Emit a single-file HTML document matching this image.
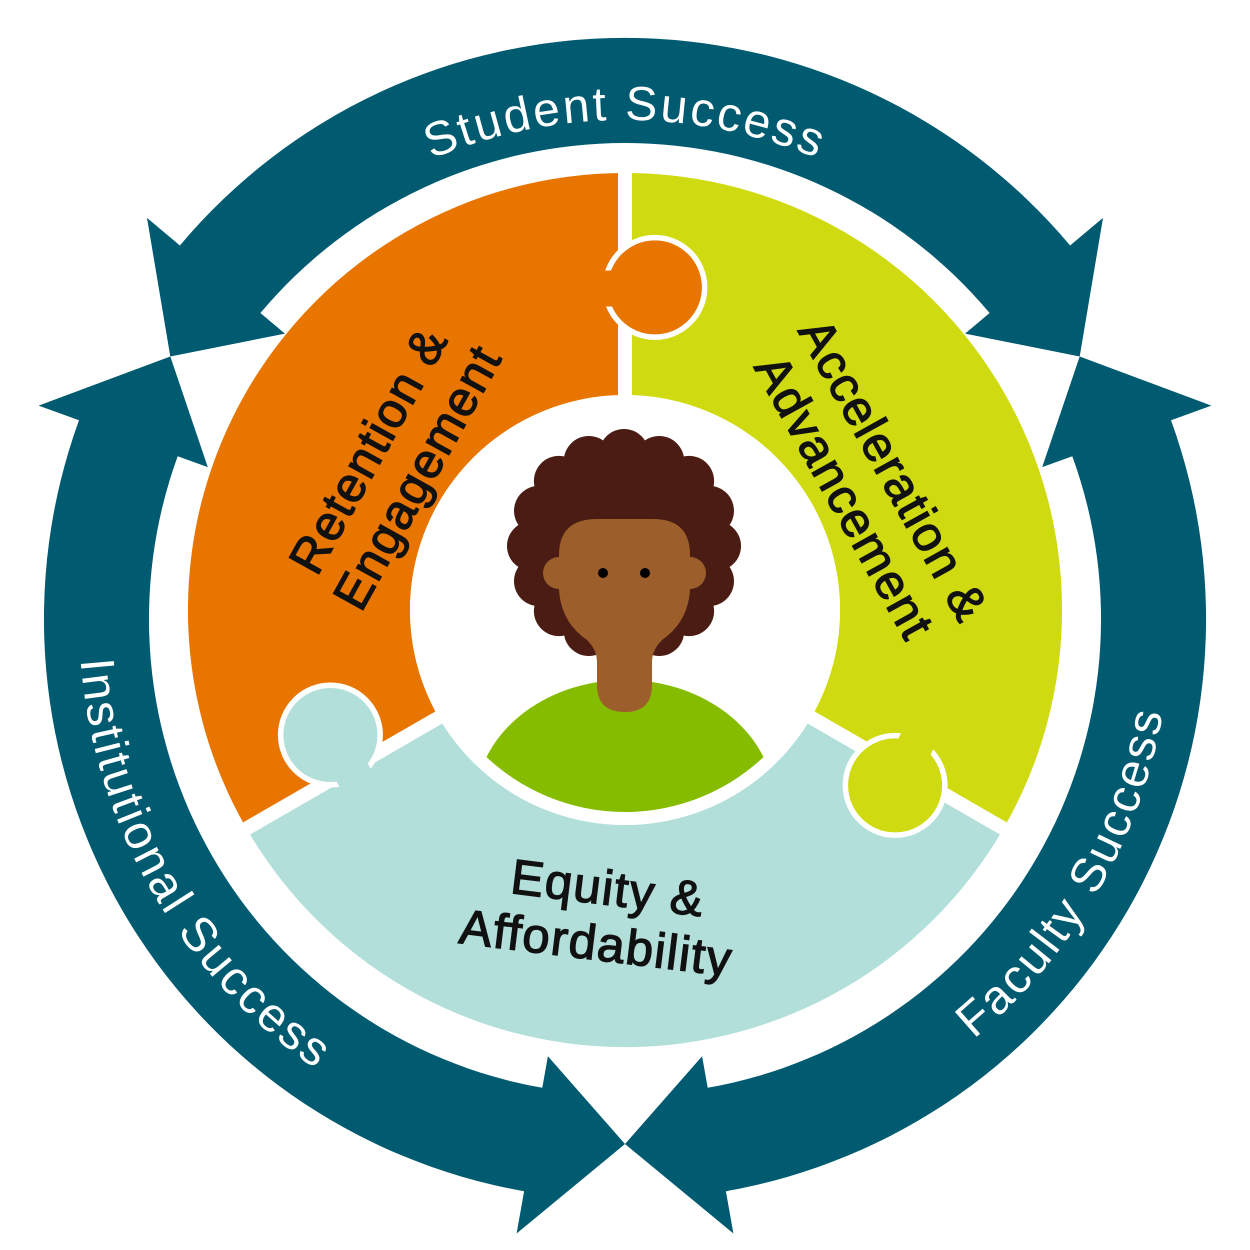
<!DOCTYPE html>
<html><head><meta charset="utf-8">
<style>
html,body{margin:0;padding:0;background:#fff;}
svg{display:block}
.ring{font-family:"Liberation Sans",sans-serif;font-size:48px;fill:#fff;letter-spacing:2.5px}
.pz{font-family:"Liberation Sans",sans-serif;font-size:49px;font-weight:normal;fill:#111;stroke:#111;stroke-width:1.3px;text-anchor:middle;letter-spacing:1.5px}
</style></head>
<body>
<svg id="s" width="1250" height="1250" viewBox="0 0 1250 1250" xmlns="http://www.w3.org/2000/svg">
<defs>
<path id="pStudent" d=""/>
<path id="pInst" d=""/>
<path id="pFac" d=""/>
<clipPath id="innerClip"><circle cx="625" cy="610" r="202"/></clipPath>
</defs>
<g id="ringg" fill="#005a70"></g>
<g id="puzzle"></g>
<g>
<g id="hair" fill="#4a1c13"></g>
<g clip-path="url(#innerClip)">
<ellipse cx="625" cy="805" rx="150" ry="125" fill="#86bc00"/>
</g>
<circle cx="559" cy="573" r="16" fill="#9c5f2b"/>
<circle cx="690" cy="573" r="16" fill="#9c5f2b"/>
<path fill="#9c5f2b" d="M559,560 L559,555 Q559,519 597,519 L653,519 Q690,519 690,555 L690,590 Q688,622 662,640 Q652,650 652,662 L652,685 Q652,712 625,712 Q597,712 597,685 L597,662 Q597,650 587,640 Q561,622 559,590 Z"/>
<circle cx="603" cy="573" r="5" fill="#000"/>
<circle cx="645" cy="573" r="5" fill="#000"/>
</g>
<text class="ring"><textPath href="#pStudent" startOffset="50%" text-anchor="middle">Student Success</textPath></text>
<text class="ring"><textPath href="#pInst" startOffset="50%" text-anchor="middle">Institutional Success</textPath></text>
<text class="ring"><textPath href="#pFac" startOffset="50%" text-anchor="middle">Faculty Success</textPath></text>
<g transform="translate(390,462) rotate(-61)">
<text class="pz" x="0" y="-8">Retention &amp;</text>
<text class="pz" x="0" y="48">Engagement</text>
</g>
<g transform="translate(872,482) rotate(61)">
<text class="pz" x="0" y="-8">Acceleration &amp;</text>
<text class="pz" x="0" y="48">Advancement</text>
</g>
<g transform="translate(600,912) rotate(7)">
<text class="pz" x="5" y="-8">Equity &amp;</text>
<text class="pz" x="0" y="48">Affordability</text>
</g>
</svg>
<script>
(function(){
var NS="http://www.w3.org/2000/svg";
function P(cx,cy,r,a){a=a*Math.PI/180;return (cx+r*Math.cos(a)).toFixed(1)+","+(cy+r*Math.sin(a)).toFixed(1);}
var cx=625,cy=619,ro=581,ri=476,bo=624,bi=444,rt=525,B=10;
function seg(t1,t2){
 return "M"+P(cx,cy,rt,t1)+" L"+P(cx,cy,bo,t1+B)+" L"+P(cx,cy,ro,t1+B)+
 " A"+ro+" "+ro+" 0 0 1 "+P(cx,cy,ro,t2-B)+" L"+P(cx,cy,bo,t2-B)+" L"+P(cx,cy,rt,t2)+
 " L"+P(cx,cy,bi,t2-B)+" L"+P(cx,cy,ri,t2-B)+" A"+ri+" "+ri+" 0 0 0 "+P(cx,cy,ri,t1+B)+
 " L"+P(cx,cy,bi,t1+B)+" Z";
}
var rg=document.getElementById("ringg");
[[210,330],[330,450],[90,210]].forEach(function(t){
 var p=document.createElementNS(NS,"path");p.setAttribute("d",seg(t[0],t[1]));rg.appendChild(p);});
document.getElementById("pStudent").setAttribute("d","M"+P(cx,cy,499,200)+" A499 499 0 0 1 "+P(cx,cy,499,340));
document.getElementById("pInst").setAttribute("d","M"+P(cx,cy,546,205)+" A546 546 0 0 0 "+P(cx,cy,546,95));
document.getElementById("pFac").setAttribute("d","M"+P(cx,cy,546,85)+" A546 546 0 0 0 "+P(cx,cy,546,-25));
var px=625,py=610,R=437,r=215;
var pz=document.getElementById("puzzle");
function add(tag,attrs){var e=document.createElementNS(NS,tag);for(var k in attrs)e.setAttribute(k,attrs[k]);pz.appendChild(e);return e;}
function sector(a1,a2,col){
 add("path",{fill:col,d:"M"+P(px,py,R,a1)+" A"+R+" "+R+" 0 0 1 "+P(px,py,R,a2)+" L"+P(px,py,r,a2)+" A"+r+" "+r+" 0 0 0 "+P(px,py,r,a1)+" Z"});
}
var OR="#e87500",GR="#d0da10",TE="#b2dfda";
sector(150,270,OR);sector(270,390,GR);sector(30,150,TE);
[270,30,150].forEach(function(a){
 var s=P(px,py,r-10,a).split(","),e=P(px,py,R+10,a).split(",");
 add("line",{x1:s[0],y1:s[1],x2:e[0],y2:e[1],stroke:"#fff","stroke-width":14});
});
function knob(ang,rad,back,col){
 var c=P(px,py,rad,ang).split(",");
 add("circle",{cx:c[0],cy:c[1],r:47,fill:col,stroke:"#fff","stroke-width":11});
 var d=P(px,py,rad,back).split(",");
 add("line",{x1:c[0],y1:c[1],x2:d[0],y2:d[1],stroke:col,"stroke-width":36});
 add("circle",{cx:c[0],cy:c[1],r:47,fill:col});
}
knob(275.3,324,262,OR);
knob(157,320,143,TE);
knob(33,322,20,GR);
add("circle",{cx:px,cy:py,r:r,fill:"#fff"});
var h=document.getElementById("hair");
var hc=document.createElementNS(NS,"circle");hc.setAttribute("cx",624);hc.setAttribute("cy",546);hc.setAttribute("r",95);h.appendChild(hc);
for(var i=0;i<16;i++){
 var a=i*360/16;var q=P(624,546,92,a).split(",");
 var c=document.createElementNS(NS,"circle");c.setAttribute("cx",q[0]);c.setAttribute("cy",q[1]);c.setAttribute("r",25);h.appendChild(c);
}
})();
</script>
</body></html>
